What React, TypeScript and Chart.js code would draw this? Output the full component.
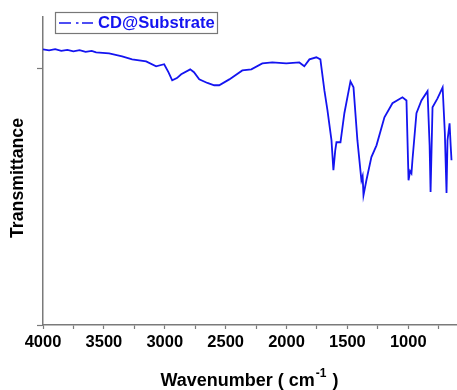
import React, { useEffect, useRef } from "react";
import { Chart, registerables } from "chart.js";

Chart.register(...registerables);

const wavenumbers = [
  4000, 3950, 3900, 3850, 3800, 3750, 3700, 3650, 3600, 3564, 3457, 3350, 3268, 3153,
  3071, 3005, 2970, 2939, 2900, 2865, 2791, 2760, 2717, 2650, 2594, 2553, 2470, 2363,
  2289, 2199, 2117, 2002, 1895, 1854, 1812, 1755, 1722, 1689, 1664, 1631, 1615, 1600,
  1590, 1557, 1525, 1475, 1450, 1418, 1385, 1375, 1368, 1344, 1303, 1261, 1196, 1130,
  1048, 1015, 998, 985, 974, 966, 933, 892, 842, 825, 817, 801, 760, 718, 700, 686, 678,
  661, 652, 645,
];
const transmittance = [
  1.074, 1.07, 1.075, 1.068, 1.072, 1.066, 1.071, 1.064, 1.068, 1.062, 1.058, 1.047, 1.035,
  1.027, 1.008, 1.016, 0.985, 0.953, 0.962, 0.977, 0.996, 0.985, 0.957, 0.943, 0.934,
  0.934, 0.957, 0.992, 0.996, 1.019, 1.023, 1.019, 1.023, 1.008, 1.035, 1.043, 1.035,
  0.914, 0.837, 0.72, 0.603, 0.68, 0.712, 0.712, 0.825, 0.949, 0.926, 0.72, 0.564, 0.58,
  0.506, 0.564, 0.654, 0.7, 0.809, 0.864, 0.887, 0.875, 0.564, 0.6, 0.591, 0.642, 0.825,
  0.875, 0.911, 0.7, 0.518, 0.848, 0.883, 0.926, 0.75, 0.514, 0.72, 0.786, 0.7, 0.642,
];
const xTicks = [4000, 3750, 3500, 3250, 3000, 2750, 2500, 2250, 2000, 1750, 1500, 1250, 1000, 750];
const yTicks = [0, 1];
const seriesLabel = "CD@Substrate";
const xTitle = "Wavenumber ( cm";
const xTitleSup = "-1";
const yTitle = "Transmittance";

const BLUE = "#1414f0";
const AXIS = "#7a7a7a";
const FONT = "'Liberation Sans', Arial, sans-serif";

const overlay = {
  id: "overlay",
  afterDraw(chart: any) {
    const ctx = chart.ctx;
    ctx.save();
    // legend
    ctx.strokeStyle = "#777";
    ctx.lineWidth = 1.2;
    ctx.strokeRect(55.5, 12.5, 162, 21);
    ctx.strokeStyle = BLUE;
    ctx.lineWidth = 1.4;
    ctx.beginPath();
    ctx.moveTo(59, 23);
    ctx.lineTo(71, 23);
    ctx.moveTo(76, 23);
    ctx.lineTo(78.5, 23);
    ctx.moveTo(82, 23);
    ctx.lineTo(93, 23);
    ctx.stroke();
    ctx.fillStyle = BLUE;
    ctx.font = `bold 16.6px ${FONT}`;
    ctx.textBaseline = "middle";
    ctx.textAlign = "left";
    ctx.fillText(seriesLabel, 98, 23);
    // y title
    ctx.fillStyle = "#000";
    ctx.font = `bold 17.7px ${FONT}`;
    ctx.translate(18, 178);
    ctx.rotate(-Math.PI / 2);
    ctx.textAlign = "center";
    ctx.fillText(yTitle, 0, 0);
    ctx.setTransform(1, 0, 0, 1, 0, 0);
    // x title
    ctx.font = `bold 18px ${FONT}`;
    ctx.textBaseline = "alphabetic";
    const w1 = ctx.measureText(xTitle + " ").width;
    ctx.font = `bold 12px ${FONT}`;
    const w2 = ctx.measureText(xTitleSup).width;
    ctx.font = `bold 18px ${FONT}`;
    const w3 = ctx.measureText(" )").width;
    const total = w1 + w2 + w3;
    let x = 251 - total / 2;
    const base = 386;
    ctx.textAlign = "left";
    ctx.fillText(xTitle, x, base);
    x += ctx.measureText(xTitle).width + 1;
    ctx.font = `bold 12px ${FONT}`;
    ctx.fillText(xTitleSup, x, base - 9);
    x += w2 + 1;
    ctx.font = `bold 18px ${FONT}`;
    ctx.fillText(" )", x, base);
    ctx.restore();
  },
};

export default function App() {
  const ref = useRef<HTMLCanvasElement>(null);
  useEffect(() => {
    if (!ref.current) return;
    const data = wavenumbers.map((w, i) => ({ x: w, y: transmittance[i] }));
    const chart = new Chart(ref.current, {
      type: "line",
      data: {
        datasets: [
          {
            label: seriesLabel,
            data,
            borderColor: BLUE,
            borderWidth: 1.8,
            pointRadius: 0,
            tension: 0,
            fill: false,
          },
        ],
      },
      options: {
        animation: false,
        responsive: false,
        layout: { padding: { top: 17, left: 0, right: 0, bottom: 0 } },
        plugins: { legend: { display: false }, tooltip: { enabled: false } },
        scales: {
          x: {
            type: "linear",
            reverse: true,
            min: 600,
            max: 4000,
            afterFit: (s: any) => {
              s.height = 65;
            },
            afterBuildTicks: (s: any) => {
              s.ticks = xTicks.map((v) => ({ value: v }));
            },
            border: { color: AXIS, width: 1.5 },
            grid: { drawOnChartArea: false, tickLength: 4, color: AXIS, tickWidth: 1.2 },
            ticks: {
              autoSkip: false,
              maxRotation: 0,
              padding: 4,
              color: "#000",
              font: { family: FONT, size: 16.5, weight: "bold" },
              callback: (v: any) => (Number(v) % 500 === 0 ? String(v) : ""),
            },
          },
          y: {
            type: "linear",
            min: 0,
            max: 1.2,
            afterFit: (s: any) => {
              s.width = 43;
            },
            afterBuildTicks: (s: any) => {
              s.ticks = yTicks.map((v) => ({ value: v }));
            },
            border: { color: AXIS, width: 1.5 },
            grid: { drawOnChartArea: false, tickLength: 6, color: AXIS, tickWidth: 1.2 },
            ticks: { display: true, callback: () => "", padding: 0 },
          },
        },
      },
      plugins: [overlay],
    });
    return () => chart.destroy();
  }, []);
  return (
    <div style={{ position: "fixed", left: 0, top: 0, width: 457, height: 390, background: "#fff" }}>
      <canvas ref={ref} width={457} height={390} />
    </div>
  );
}
